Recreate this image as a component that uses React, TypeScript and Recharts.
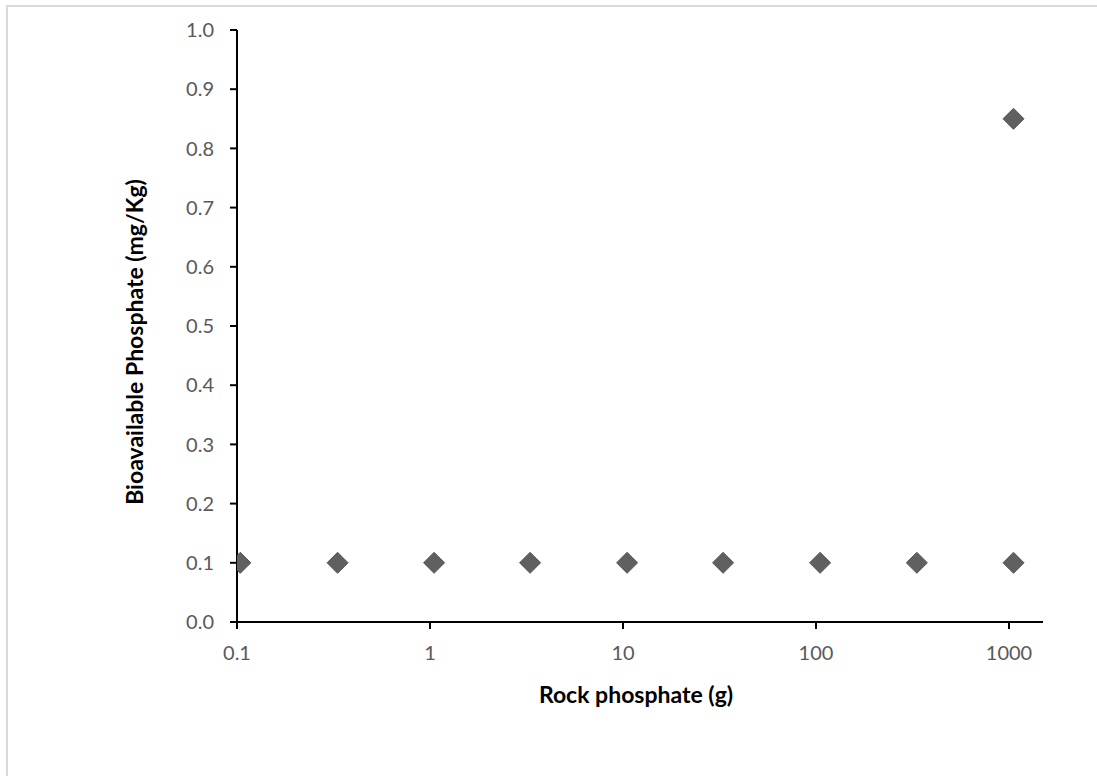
import React from "react";
import { ScatterChart, Scatter, XAxis, YAxis } from "recharts";

// rock phosphate dose (g) — log spaced
const rockDose = [0.104, 0.332, 1.05, 3.3, 10.5, 33, 105, 333, 1055, 1055];
const bioPhosphate = [0.1, 0.1, 0.1, 0.1, 0.1, 0.1, 0.1, 0.1, 0.1, 0.85];

const xTicks = [0.1, 1, 10, 100, 1000];
const yTicks = [0, 0.1, 0.2, 0.3, 0.4, 0.5, 0.6, 0.7, 0.8, 0.9, 1.0];

const points = rockDose.map((x, i) => ({ x, y: bioPhosphate[i] }));

const FONT = "Lato, 'Open Sans', sans-serif";
const tickStyle = { fill: "#595959", fontSize: 20, fontFamily: FONT };

function Diamond(props: Record<string, unknown>) {
  const { cx, cy } = props as { cx: number; cy: number };
  if (cx == null || cy == null) return null;
  const r = 10.5;
  return (
    <polygon
      points={`${cx},${cy - r} ${cx + r},${cy} ${cx},${cy + r} ${cx - r},${cy}`}
      fill="#606060"
      stroke="#555555"
      strokeWidth={1}
    />
  );
}

function XTitle(props: any) {
  const vb = props.viewBox;
  return (
    <text
      x={vb.x + vb.width / 2 - 4}
      y={vb.y + 81}
      textAnchor="middle"
      fontFamily={FONT}
      fontWeight="bold"
      fontSize={23}
      fill="#000"
    >
      Rock phosphate (g)
    </text>
  );
}

function YTitle(props: any) {
  const vb = props.viewBox;
  const cx = 143;
  const cy = vb.y + vb.height / 2 + 16;
  return (
    <text
      x={cx}
      y={cy}
      transform={`rotate(-90, ${cx}, ${cy})`}
      textAnchor="middle"
      fontFamily={FONT}
      fontWeight="bold"
      fontSize={23}
      fill="#000"
    >
      Bioavailable Phosphate (mg/Kg)
    </text>
  );
}

export default function App() {
  return (
    <div style={{ position: "absolute", left: 0, top: 0, width: 1097, height: 776, background: "#fff" }}>
      <div
        style={{
          position: "absolute",
          left: 6,
          top: 5,
          width: 1200,
          height: 900,
          borderLeft: "2px solid #d9d9d9",
          borderTop: "2px solid #d9d9d9",
        }}
      />
      <div style={{ position: "absolute", left: 0, top: 0 }}>
        <ScatterChart width={1097} height={776} margin={{ top: 30, right: 54, bottom: 94, left: 0 }}>
          <XAxis
            dataKey="x"
            type="number"
            scale="log"
            domain={[0.1, 1500]}
            allowDataOverflow
            ticks={xTicks}
            tickFormatter={(v) => String(v)}
            height={60}
            tick={tickStyle}
            tickSize={7}
            tickMargin={17}
            axisLine={{ stroke: "#000", strokeWidth: 2 }}
            tickLine={{ stroke: "#000", strokeWidth: 2 }}
            label={<XTitle />}
          />
          <YAxis
            dataKey="y"
            type="number"
            domain={[0, 1]}
            ticks={yTicks}
            tickFormatter={(v) => Number(v).toFixed(1)}
            width={237}
            tick={tickStyle}
            tickSize={7}
            tickMargin={16}
            axisLine={{ stroke: "#000", strokeWidth: 2 }}
            tickLine={{ stroke: "#000", strokeWidth: 2 }}
            label={<YTitle />}
          />
          <Scatter data={points} shape={<Diamond />} isAnimationActive={false} />
        </ScatterChart>
      </div>
    </div>
  );
}
